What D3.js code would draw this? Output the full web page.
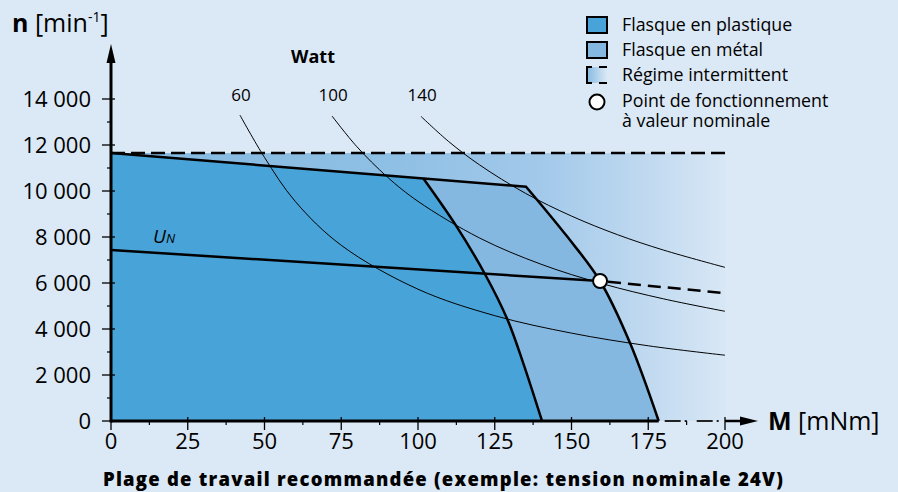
<!DOCTYPE html>
<html><head><meta charset="utf-8">
<script src="https://cdn.jsdelivr.net/npm/d3@7"></script>
<style>
html,body{margin:0;padding:0;background:#dbe8f5;}
svg{display:block;font-family:"Open Sans","Noto Sans",sans-serif;}
</style></head>
<body>
<svg id="chart" width="898" height="492"></svg>
<script>
// ---------- data ----------
const xTicks = [0, 25, 50, 75, 100, 125, 150, 175, 200];
const yTicks = [0, 2000, 4000, 6000, 8000, 10000, 12000, 14000];
const yTickLabels = ["0", "2 000", "4 000", "6 000", "8 000", "10 000", "12 000", "14 000"];
const intermittentLimit = 11650; // dashed speed limit
// outer boundary of the plastic-flange region [M mNm, n min-1]
const plasticBoundary = [[0, 11650], [101.7, 10550], [112.6, 8448], [121.8, 6391], [129.2, 4391], [134.3, 2509], [140.4, 0]];
// outer boundary of the metal-flange region
const metalBoundary = [[0, 11650], [135.2, 10187], [148.4, 8050], [159.3, 6087], [169.1, 3378], [178.4, 0]];
// nominal voltage characteristic
const unSolid = [[0, 7435], [159.3, 6087]];
const unDashed = [[159.3, 6087], [200, 5560]];
const nominalPoint = [159.3, 6087];
// iso-power curves
const watt60 = [[42, 13300], [50, 11460], [60, 9550], [75, 7640], [100, 5730], [125, 4580], [150, 3820], [175, 3270], [200, 2860]];
const watt100 = [[72, 13260], [80, 11940], [90, 10610], [100, 9550], [120, 7960], [140, 6820], [160, 5970], [180, 5310], [200, 4770]];
const watt140 = [[101, 13240], [110, 12150], [120, 11140], [135, 9900], [150, 8910], [165, 8100], [180, 7430], [200, 6680]];
const powerCurves = [{label: "60", pts: watt60}, {label: "100", pts: watt100}, {label: "140", pts: watt140}];
const legendItems = ["Flasque en plastique", "Flasque en métal", "Régime intermittent"];
const legendPointLines = ["Point de fonctionnement", "à valeur nominale"];

// ---------- layout ----------
const C = {bg: "#dbe8f5", plastic: "#48a3d8", metal: "#85b8e1"};
const svg = d3.select("#chart");
const x = d3.scaleLinear().domain([0, 200]).range([111, 725]);
const y = d3.scaleLinear().domain([0, 14000]).range([421, 99]);
const line = d3.line().x(d => x(d[0])).y(d => y(d[1]));
const smooth = d3.line().x(d => x(d[0])).y(d => y(d[1])).curve(d3.curveCatmullRom.alpha(0.5));

svg.append("rect").attr("width", 898).attr("height", 492).attr("fill", C.bg);

const defs = svg.append("defs");
const grad = defs.append("linearGradient").attr("id", "interm").attr("gradientUnits", "userSpaceOnUse")
  .attr("x1", x(0)).attr("x2", x(200)).attr("y1", 0).attr("y2", 0);
[[0, "#86bae2"], [0.45, "#8ebfe4"], [0.7, "#a2c9ea"], [0.85, "#bcd7ef"], [1, "#d8e7f5"]]
  .forEach(s => grad.append("stop").attr("offset", s[0]).attr("stop-color", s[1]));
const grad2 = defs.append("linearGradient").attr("id", "legGrad")
  .attr("x1", 0).attr("x2", 1).attr("y1", 0).attr("y2", 0);
[[0, "#86bae2"], [1, "#dbe8f5"]].forEach(s => grad2.append("stop").attr("offset", s[0]).attr("stop-color", s[1]));

// intermittent zone
svg.append("rect").attr("x", x(0)).attr("y", y(intermittentLimit))
  .attr("width", x(200) - x(0)).attr("height", y(0) - y(intermittentLimit)).attr("fill", "url(#interm)");

function smoothBoundary(b) {
  const top = "M" + x(b[0][0]) + "," + y(b[0][1]) + "L" + x(b[1][0]) + "," + y(b[1][1]);
  const curve = smooth(b.slice(1));
  return top + "L" + curve.slice(1);
}
function regionPath(b) {
  return smoothBoundary(b) + "L" + x(0) + "," + y(0) + "Z";
}
svg.append("path").attr("d", regionPath(metalBoundary)).attr("fill", C.metal);
svg.append("path").attr("d", regionPath(plasticBoundary)).attr("fill", C.plastic);

// power curves
const pc = svg.append("g");
powerCurves.forEach(p => {
  pc.append("path").attr("d", smooth(p.pts)).attr("fill", "none").attr("stroke", "#000").attr("stroke-width", 1);
  pc.append("text").attr("x", x(p.pts[0][0]) + 1).attr("y", 101).attr("text-anchor", "middle")
    .attr("font-size", 17).text(p.label);
});
svg.append("text").attr("x", 313).attr("y", 63).attr("text-anchor", "middle")
  .attr("font-size", 18).attr("font-weight", "bold").text("Watt");

// dashed limit line
svg.append("line").attr("x1", x(0)).attr("x2", x(200)).attr("y1", y(intermittentLimit)).attr("y2", y(intermittentLimit))
  .attr("stroke", "#000").attr("stroke-width", 2.5).attr("stroke-dasharray", "14,6");

// boundaries
svg.append("path").attr("d", smoothBoundary(metalBoundary)).attr("fill", "none").attr("stroke", "#000").attr("stroke-width", 2.5);
svg.append("path").attr("d", smooth(plasticBoundary.slice(1))).attr("fill", "none").attr("stroke", "#000").attr("stroke-width", 2.5);

// U_N line
svg.append("path").attr("d", line(unSolid)).attr("fill", "none").attr("stroke", "#000").attr("stroke-width", 2.5);
svg.append("path").attr("d", line(unDashed)).attr("fill", "none").attr("stroke", "#000").attr("stroke-width", 2.5).attr("stroke-dasharray", "13,7").attr("stroke-dashoffset", -8);
const un = svg.append("text").attr("x", 153).attr("y", 243).attr("font-style", "italic");
un.append("tspan").attr("font-size", 19).text("U");
un.append("tspan").attr("font-size", 13).text("N");

// nominal point
svg.append("circle").attr("cx", x(nominalPoint[0])).attr("cy", y(nominalPoint[1])).attr("r", 7)
  .attr("fill", "#fff").attr("stroke", "#000").attr("stroke-width", 2);

// ---------- axes ----------
const ax = svg.append("g").attr("stroke", "#000");
ax.append("line").attr("x1", x(0)).attr("x2", x(178.4)).attr("y1", y(0)).attr("y2", y(0)).attr("stroke-width", 3);
ax.append("line").attr("x1", x(178.4)).attr("x2", x(200)).attr("y1", y(0)).attr("y2", y(0)).attr("stroke-width", 2)
  .attr("stroke-dasharray", "0,6,16,4,2,4").attr("stroke", "#222");
ax.append("line").attr("x1", x(200)).attr("x2", 742).attr("y1", y(0)).attr("y2", y(0)).attr("stroke-width", 2.5);
svg.append("path").attr("d", `M758,${y(0)}L740,${y(0) - 4.5}L740,${y(0) + 4.5}Z`).attr("fill", "#000");
ax.append("line").attr("x1", x(0)).attr("x2", x(0)).attr("y1", y(0) + 1.5).attr("y2", 62).attr("stroke-width", 3);
svg.append("path").attr("d", `M${x(0)},44L${x(0) - 4.5},63L${x(0) + 4.5},63Z`).attr("fill", "#000");

const xMinor = d3.range(12.5, 200, 25);
xTicks.forEach(t => ax.append("line").attr("x1", x(t)).attr("x2", x(t)).attr("y1", y(0) - 4).attr("y2", y(0) + 9).attr("stroke-width", 1.3));
xMinor.forEach(t => ax.append("line").attr("x1", x(t)).attr("x2", x(t)).attr("y1", y(0)).attr("y2", y(0) + 4).attr("stroke-width", 1.2));
const yMinor = d3.range(1000, 15000, 2000);
yTicks.forEach(t => ax.append("line").attr("x1", x(0) - 9).attr("x2", x(0) + 4).attr("y1", y(t)).attr("y2", y(t)).attr("stroke-width", 1.3));
yMinor.forEach(t => ax.append("line").attr("x1", x(0) - 4).attr("x2", x(0)).attr("y1", y(t)).attr("y2", y(t)).attr("stroke-width", 1.2));

svg.append("g").selectAll("text").data(xTicks).join("text")
  .attr("x", d => x(d)).attr("y", 449).attr("text-anchor", "middle")
  .attr("font-family", "'Liberation Sans Narrow','Open Sans',sans-serif").attr("font-size", 22).text(d => d);
svg.append("g").selectAll("text").data(yTicks).join("text")
  .attr("x", 91).attr("y", d => y(d) + 8).attr("text-anchor", "end")
  .attr("font-size", 22).text((d, i) => yTickLabels[i]);

const nt = svg.append("text").attr("x", 12).attr("y", 32).attr("font-size", 25);
nt.append("tspan").attr("font-weight", "bold").text("n");
nt.append("tspan").text(" [min");
nt.append("tspan").attr("font-size", 14).attr("dy", -10).text("-1");
nt.append("tspan").attr("dy", 10).text("]");
const mt = svg.append("text").attr("x", 768).attr("y", 430).attr("font-size", 25);
mt.append("tspan").attr("font-weight", "bold").text("M");
mt.append("tspan").text(" [mNm]");

const caption = "Plage de travail recommandée (exemple: tension nominale 24V)";
const cap = svg.append("text").attr("x", 103).attr("y", 486)
  .attr("font-size", 18.5).attr("font-weight", 800).text(caption);
const natural = cap.node().getComputedTextLength();
cap.attr("letter-spacing", Math.max(0, (681 - natural) / caption.length));

// ---------- legend ----------
const lg = svg.append("g");
const lx = 587, tx = 622;
lg.append("rect").attr("x", lx).attr("y", 17).attr("width", 20).attr("height", 16).attr("fill", C.plastic).attr("stroke", "#000").attr("stroke-width", 2);
lg.append("rect").attr("x", lx).attr("y", 42).attr("width", 20).attr("height", 16).attr("fill", C.metal).attr("stroke", "#000").attr("stroke-width", 2);
lg.append("rect").attr("x", lx).attr("y", 67).attr("width", 20).attr("height", 16).attr("fill", "url(#legGrad)");
lg.append("path").attr("d", `M${lx + 5},67H${lx}V83H${lx + 5}M${lx + 12},67H${lx + 20}M${lx + 12},83H${lx + 20}`)
  .attr("fill", "none").attr("stroke", "#000").attr("stroke-width", 2);
lg.append("circle").attr("cx", lx + 10).attr("cy", 102).attr("r", 7.5).attr("fill", "#fff").attr("stroke", "#000").attr("stroke-width", 2);
[[legendItems[0], 31], [legendItems[1], 56], [legendItems[2], 81]]
  .forEach(t => lg.append("text").attr("x", tx).attr("y", t[1]).attr("font-size", 17.8).text(t[0]));
const pt = lg.append("text").attr("x", tx).attr("y", 107).attr("font-size", 17.8);
pt.append("tspan").attr("x", tx).text(legendPointLines[0]);
pt.append("tspan").attr("x", tx).attr("dy", 20).text(legendPointLines[1]);
</script>
</body></html>
